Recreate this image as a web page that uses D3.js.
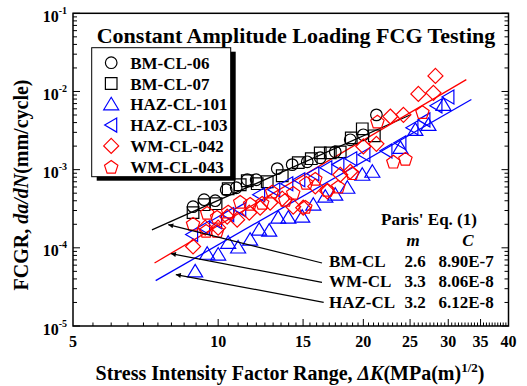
<!DOCTYPE html>
<html>
<head>
<meta charset="utf-8">
<script src="https://cdn.jsdelivr.net/npm/d3@7"></script>
<style>
  body { margin: 0; background: #fff; }
  svg { display: block; }
  text { font-family: "Liberation Serif", "Times New Roman", serif; font-weight: bold; fill: #000; }
</style>
</head>
<body>
<div id="chart"></div>
<script>
// ---- data (dK in MPa(m)^1/2, da/dN in mm/cycle) ----
const bmCl06 = [[8.87,3.36e-4],[9.35,4.13e-4],[9.86,4.01e-4],[10.39,5.54e-4],[10.9,5.87e-4],[11.49,7.43e-4],
  [11.99,7.43e-4],[13.26,1.03e-3],[14.24,1.16e-3],[15.3,1.26e-3],[16.28,1.42e-3],[17.49,1.69e-3],
  [18.79,2.41e-3],[20.0,2.79e-3],[21.29,5.02e-3]];
const bmCl07 = [[8.87,2.82e-4],[9.35,3.56e-4],[9.9,3.67e-4],[10.49,5.7e-4],[11.11,6.41e-4],[11.49,7.21e-4],
  [12.05,6.61e-4],[12.64,7.0e-4],[13.58,8.36e-4],[14.66,1.23e-3],[15.6,1.38e-3],[16.28,1.64e-3],
  [17.08,1.64e-3],[17.91,1.69e-3],[18.88,2.55e-3],[19.9,3.33e-3],[21.08,2.71e-3]];
const hazCl101 = [[8.96,5.0e-5],[9.49,8.4e-5],[10.0,8.2e-5],[10.49,1.16e-4],[11.0,1.01e-4],[11.65,1.27e-4],
  [12.16,1.71e-4],[12.76,1.66e-4],[13.32,2.43e-4],[13.98,2.43e-4],[14.94,2.5e-4],[15.75,3.56e-4],
  [16.68,4.51e-4],[17.49,4.78e-4],[18.53,5.87e-4],[19.9,8.61e-4],[20.88,9.4e-4],[23.87,1.9e-3],
  [25.64,3.23e-3],[27.29,3.74e-3],[29.32,6.74e-3]];
const hazCl103 = [[8.83,1.48e-4],[9.35,1.81e-4],[9.9,2.16e-4],[10.49,2.66e-4],[11.11,3.08e-4],[12.16,4.78e-4],
  [13.07,5.54e-4],[13.91,6.61e-4],[14.73,7.43e-4],[15.75,8.87e-4],[16.76,1.06e-3],[17.75,1.16e-3],
  [18.88,1.38e-3],[20.1,1.55e-3],[22.33,1.74e-3],[23.87,2.21e-3],[25.28,3.43e-3],[26.77,4.33e-3],
  [28.35,6.55e-3],[30.02,8.5e-3]];
const wmCl042 = [[8.87,1.04e-4],[9.4,1.81e-4],[10.0,1.81e-4],[10.44,2.5e-4],[10.95,2.29e-4],[11.6,2.82e-4],
  [12.22,3.26e-4],[12.82,3.78e-4],[13.58,4.25e-4],[14.31,3.36e-4],[15.01,3.26e-4],[15.9,6.1e-4],
  [16.84,5.27e-4],[17.91,8.61e-4],[18.79,9.4e-4],[20.0,1.98e-3],[21.29,2.14e-3],[22.75,4.78e-3],
  [24.22,5.02e-3],[26.01,9.3e-3],[27.95,9.6e-3],[28.22,1.58e-2]];
const wmCl043 = [[8.87,2.04e-4],[9.44,1.66e-4],[9.49,2.82e-4],[9.95,1.66e-4],[9.95,2.5e-4],[10.49,2.92e-4],
  [11.11,3.89e-4],[11.65,3.67e-4],[12.34,3.78e-4],[12.94,5.27e-4],[13.78,4.13e-4],[14.31,5.07e-4],
  [15.16,3.36e-4],[15.23,6.8e-4],[15.9,7.66e-4],[16.84,5.54e-4],[17.75,6.1e-4],[18.97,9.05e-4],
  [21.39,4.13e-3],[23.08,1.27e-3],[24.45,1.38e-3],[26.52,5.48e-3]];

// fitted Paris lines, end points
const fitBM = [[7.29,1.7e-4],[25.0,5.0e-3]];
const fitWM = [[7.38,6.4e-5],[32.7,1.42e-2]];
const fitHAZ = [[7.42,3.8e-5],[33.5,7.9e-3]];

// Paris' table
const parisNames = ["BM-CL", "WM-CL", "HAZ-CL"];
const parisM = ["2.6", "3.3", "3.2"];
const parisC = ["8.90E-7", "8.06E-8", "6.12E-8"];
// arrows: tail (at label) -> tip (on fit line)
const arrowTails = [[16.42,6.4e-5],[16.42,3.62e-5],[16.55,2.01e-5]];
const arrowTips = [[7.88,1.98e-4],[7.98,8.43e-5],[8.17,4.55e-5]];

const xTickLabels = [5, 10, 15, 20, 25, 30, 35, 40];
const yExponents = [-1, -2, -3, -4, -5];

const series = [
  {name: "BM-CL-06", color: "#000", shape: "circle", data: bmCl06},
  {name: "BM-CL-07", color: "#000", shape: "square", data: bmCl07},
  {name: "HAZ-CL-101", color: "#0000ff", shape: "up", data: hazCl101},
  {name: "HAZ-CL-103", color: "#0000ff", shape: "left", data: hazCl103},
  {name: "WM-CL-042", color: "#ff0000", shape: "diamond", data: wmCl042},
  {name: "WM-CL-043", color: "#ff0000", shape: "pentagon", data: wmCl043}
];

// ---- layout ----
const W = 527, H = 386;
const plot = {left: 73, right: 508.5, top: 13.3, bottom: 326};

const x = d3.scaleLog().domain([5, 40]).range([plot.left, plot.right]);
const y = d3.scaleLog().domain([1e-5, 1e-1]).range([plot.bottom, plot.top]);

const svg = d3.select("#chart").append("svg")
  .attr("width", W).attr("height", H);

// arrow head, tip at the end of the line
svg.append("defs").append("marker")
  .attr("id", "ah")
  .attr("viewBox", "0 0 10 10")
  .attr("refX", 10).attr("refY", 5)
  .attr("markerWidth", 9).attr("markerHeight", 5)
  .attr("markerUnits", "userSpaceOnUse")
  .attr("orient", "auto")
  .append("path").attr("d", "M0,0L10,5L0,10Z").attr("fill", "#000");

// marker shapes
function pentagon(r) {
  const pts = d3.range(5).map(i => {
    const a = -Math.PI / 2 + i * 2 * Math.PI / 5;
    return [r * Math.cos(a), r * Math.sin(a) + 0.8];
  });
  return "M" + pts.join("L") + "Z";
}
const shapes = {
  circle: d3.symbol(d3.symbolCircle, Math.PI * 5.8 * 5.8)(),
  square: "M-5.8,-5.8H5.8V5.8H-5.8Z",
  up: "M0,-7L7.5,5.5L-7.5,5.5Z",
  left: "M-6.5,0L5.5,-7L5.5,7Z",
  diamond: "M0,-7.5L7.5,0L0,7.5L-7.5,0Z",
  pentagon: pentagon(7)
};

// ---- frame and ticks ----
svg.append("rect")
  .attr("x", plot.left).attr("y", plot.top)
  .attr("width", plot.right - plot.left).attr("height", plot.bottom - plot.top)
  .attr("fill", "none").attr("stroke", "#000").attr("stroke-width", 1.5);

const ticks = svg.append("g").attr("stroke", "#000").attr("stroke-width", 1);

// x ticks every 0.5, long at labels
d3.range(5.5, 40, 0.5).forEach(v => {
  const len = xTickLabels.includes(v) ? 7 : 3.5;
  ticks.append("line")
    .attr("x1", x(v)).attr("x2", x(v))
    .attr("y1", plot.bottom).attr("y2", plot.bottom - len);
});

// y ticks: decades long, 2..9 short, both sides
yExponents.forEach(e => {
  d3.range(1, 10).forEach(m => {
    const v = m * Math.pow(10, e);
    if (v > 0.1 || v < 1e-5) return;
    const len = m === 1 ? 7 : 4;
    const yy = y(v);
    ticks.append("line").attr("x1", plot.left).attr("x2", plot.left + len).attr("y1", yy).attr("y2", yy);
    ticks.append("line").attr("x1", plot.right).attr("x2", plot.right - len).attr("y1", yy).attr("y2", yy);
  });
});

// tick labels
svg.append("g").selectAll("text").data(xTickLabels).enter().append("text")
  .attr("x", d => x(d)).attr("y", plot.bottom + 21)
  .attr("text-anchor", "middle").attr("font-size", 16)
  .text(d => d);

const yl = svg.append("g").selectAll("text").data(yExponents).enter().append("text")
  .attr("x", plot.left - 6).attr("y", d => y(Math.pow(10, d)) + 8.5)
  .attr("text-anchor", "end").attr("font-size", 16);
yl.append("tspan").text("10");
yl.append("tspan").attr("dy", -8).attr("font-size", 10).text(d => "-" + (-d));

// ---- fit lines ----
const line = d3.line().x(d => x(d[0])).y(d => y(d[1]));
[[fitBM, "#000"], [fitWM, "#ff0000"], [fitHAZ, "#0000ff"]].forEach(([pts, c]) => {
  svg.append("path").attr("d", line(pts))
    .attr("fill", "none").attr("stroke", c).attr("stroke-width", 1.3);
});

// ---- data markers ----
series.forEach(s => {
  svg.append("g").selectAll("path").data(s.data).enter().append("path")
    .attr("d", shapes[s.shape])
    .attr("transform", d => `translate(${x(d[0])},${y(d[1])})`)
    .attr("fill", "none").attr("stroke", s.color).attr("stroke-width", 1.2);
});

// ---- arrows ----
arrowTails.forEach((t, i) => {
  svg.append("line")
    .attr("x1", x(t[0])).attr("y1", y(t[1]))
    .attr("x2", x(arrowTips[i][0])).attr("y2", y(arrowTips[i][1]))
    .attr("stroke", "#000").attr("stroke-width", 1.2)
    .attr("marker-end", "url(#ah)");
});

// ---- title ----
svg.append("text")
  .attr("x", 296).attr("y", 43)
  .attr("text-anchor", "middle").attr("font-size", 22)
  .text("Constant Amplitude Loading FCG Testing");

// ---- legend ----
const lg = {x: 91.7, y: 47.7, w: 139, h: 129};
svg.append("rect").attr("x", lg.x + 5).attr("y", lg.y + 4)
  .attr("width", lg.w).attr("height", lg.h).attr("fill", "#000");
svg.append("rect").attr("x", lg.x).attr("y", lg.y)
  .attr("width", lg.w).attr("height", lg.h)
  .attr("fill", "#fff").attr("stroke", "#000").attr("stroke-width", 1);

const items = svg.append("g").selectAll("g").data(series).enter().append("g")
  .attr("transform", (d, i) => `translate(${lg.x + 19.5},${lg.y + 15 + i * 20.8})`);
items.append("path")
  .attr("d", d => shapes[d.shape])
  .attr("fill", "none").attr("stroke", d => d.color).attr("stroke-width", 1.2);
items.append("text")
  .attr("x", 19).attr("y", 6)
  .attr("font-size", 17)
  .text(d => d.name);

// ---- Paris' table ----
svg.append("text").attr("x", 429).attr("y", 225)
  .attr("text-anchor", "middle").attr("font-size", 17).text("Paris' Eq. (1)");
svg.append("text").attr("x", 413).attr("y", 246)
  .attr("text-anchor", "middle").attr("font-size", 17).attr("font-style", "italic").text("m");
svg.append("text").attr("x", 468).attr("y", 246)
  .attr("text-anchor", "middle").attr("font-size", 17).attr("font-style", "italic").text("C");
parisNames.forEach((n, i) => {
  const yy = 266.5 + i * 20.8;
  svg.append("text").attr("x", 329).attr("y", yy).attr("font-size", 17).text(n);
  svg.append("text").attr("x", 415).attr("y", yy).attr("text-anchor", "middle").attr("font-size", 17).text(parisM[i]);
  svg.append("text").attr("x", 466).attr("y", yy).attr("text-anchor", "middle").attr("font-size", 17).text(parisC[i]);
});

// ---- axis titles ----
const xt = svg.append("text")
  .attr("x", 290).attr("y", 380)
  .attr("text-anchor", "middle").attr("font-size", 20);
xt.append("tspan").text("Stress Intensity Factor Range, ");
xt.append("tspan").attr("font-style", "italic").text("\u0394K");
xt.append("tspan").text("(MPa(m)");
xt.append("tspan").attr("dy", -8).attr("font-size", 13).text("1/2");
xt.append("tspan").attr("dy", 8).text(")");

const yt = svg.append("text")
  .attr("transform", "translate(28,185) rotate(-90)")
  .attr("text-anchor", "middle").attr("font-size", 20);
yt.append("tspan").text("FCGR, ");
yt.append("tspan").attr("font-style", "italic").text("da/dN");
yt.append("tspan").text("(mm/cycle)");
</script>
</body>
</html>
